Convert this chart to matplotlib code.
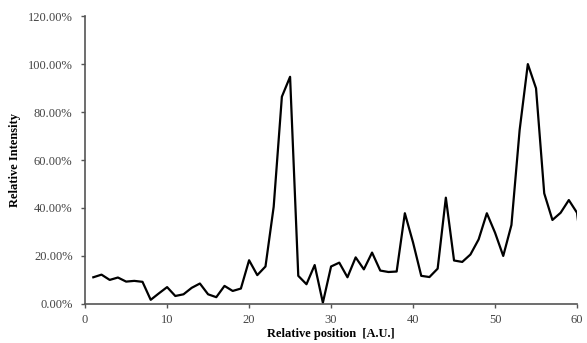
import numpy as np
import matplotlib.pyplot as plt
from matplotlib.ticker import FuncFormatter

# posición relativa y su intensidad (%)
posicion = list(range(1, 62))
intensidad = [11.1, 12.2, 10.0, 11.0, 9.3, 9.6, 9.2, 1.7, 4.4, 7.0,
              3.3, 4.0, 6.7, 8.5, 4.0, 2.8, 7.5, 5.4, 6.4, 18.2,
              12.0, 15.6, 40.5, 86.4, 94.7, 11.7, 8.2, 16.2, 0.5, 15.6,
              17.2, 11.1, 19.4, 14.4, 21.4, 13.9, 13.3, 13.5, 37.8, 25.6,
              11.7, 11.2, 14.7, 44.3, 18.1, 17.5, 20.6, 26.9, 37.8, 29.7,
              20.0, 32.9, 72.5, 100.0, 89.9, 46.1, 35.0, 38.0, 43.3, 38.0,
              11.0]
xticks = [0, 10, 20, 30, 40, 50, 60]
yticks = [0, 20, 40, 60, 80, 100, 120]

plt.rcParams['font.family'] = 'Liberation Serif'

fig = plt.figure(figsize=(5.87, 3.43), dpi=100)
ax = fig.add_axes([0.145, 0.114, 0.838, 0.839])

ax.plot(posicion, intensidad, color='black', linewidth=1.6)

ax.set_xlim(0, 60)
ax.set_ylim(0, 120)
ax.set_xticks(xticks)
ax.set_yticks(yticks)
ax.yaxis.set_major_formatter(FuncFormatter(lambda v, p: f'{v:.2f}%'))

for s in ['top', 'right']:
    ax.spines[s].set_visible(False)
for s in ['left', 'bottom']:
    ax.spines[s].set_color('#555555')
    ax.spines[s].set_linewidth(1.2)
ax.tick_params(direction='out', length=3, width=1, colors='#555555',
               labelsize=9, labelcolor='#444444', pad=4)
ax.tick_params(axis='y', pad=6)

fuente = {'weight': 'bold', 'size': 9}
ax.set_xlabel('Relative position  [A.U.]', fontdict=fuente, labelpad=2)
ax.set_ylabel('Relative Intensity', fontdict=fuente, labelpad=5)

fig.savefig('out.png', dpi=100)
